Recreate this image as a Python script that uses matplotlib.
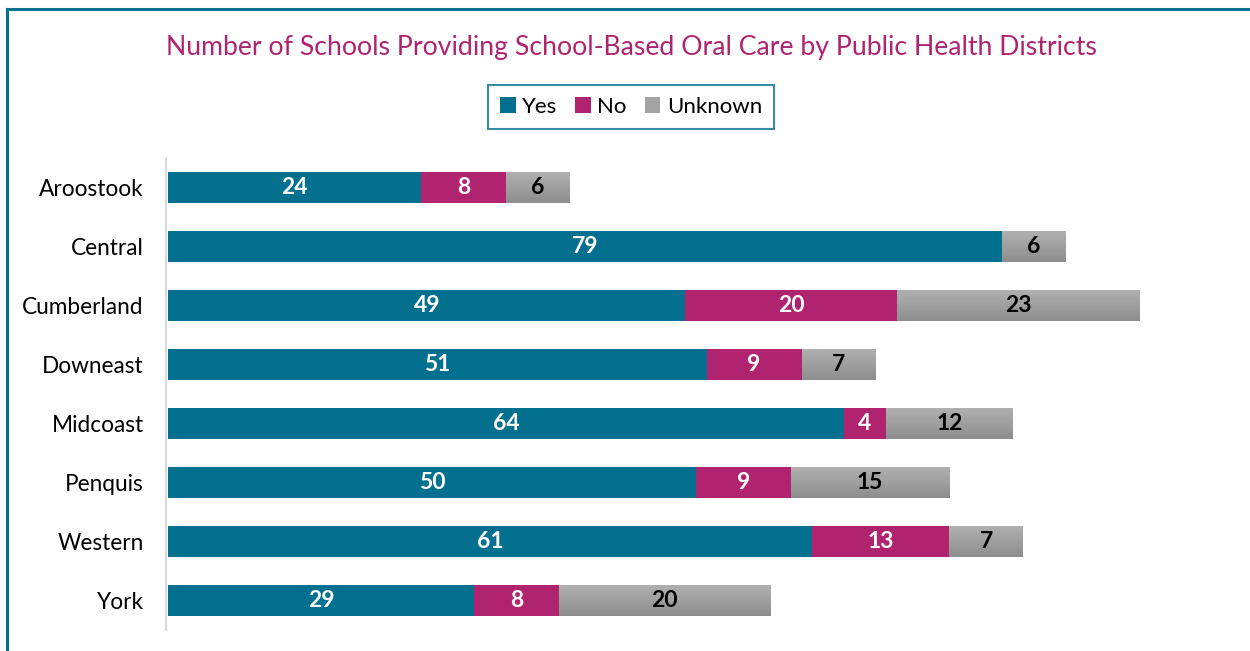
import matplotlib.pyplot as plt
from matplotlib.lines import Line2D
from matplotlib.colors import LinearSegmentedColormap
import numpy as np

districts = ["Aroostook", "Central", "Cumberland", "Downeast",
             "Midcoast", "Penquis", "Western", "York"]
yes_vals = [24, 79, 49, 51, 64, 50, 61, 29]
no_vals = [8, 0, 20, 9, 4, 9, 13, 8]
unknown_vals = [6, 6, 23, 7, 12, 15, 7, 20]

teal = "#03708F"
magenta = "#B0246F"
gray = "#A3A3A3"

plt.rcParams["font.family"] = ["Lato", "DejaVu Sans"]

fig = plt.figure(figsize=(12.5, 6.51), dpi=100)
ax = fig.add_axes([168 / 1250, 21 / 651, 1056 / 1250, 472 / 651])

y = np.arange(len(districts))
yes = np.array(yes_vals)
no = np.array(no_vals)
unk = np.array(unknown_vals)
h = 0.51

ax.barh(y, yes, height=h, color=teal, label="Yes")
ax.barh(y, no, left=yes, height=h, color=magenta, label="No")
gray_bars = ax.barh(y, unk, left=yes + no, height=h, color=gray, label="Unknown")

# light-to-dark gradient on the grey bars
grad_cmap = LinearSegmentedColormap.from_list("g", ["#B0B0B0", "#8E8E8E"])
grad = np.linspace(0, 1, 64).reshape(-1, 1)
for bar in gray_bars:
    x0, y0 = bar.get_x(), bar.get_y()
    w, hh = bar.get_width(), bar.get_height()
    if w == 0:
        continue
    im = ax.imshow(grad, cmap=grad_cmap, aspect="auto",
                   extent=[x0, x0 + w, y0, y0 + hh], origin="lower", zorder=1.5)
    im.set_clip_path(bar)

# value labels
for i in range(len(districts)):
    if yes[i]:
        ax.text(yes[i] / 2, y[i], str(yes[i]), ha="center", va="center",
                color="white", fontsize=16.5, fontweight="bold", zorder=3)
    if no[i]:
        ax.text(yes[i] + no[i] / 2, y[i], str(no[i]), ha="center", va="center",
                color="white", fontsize=16.5, fontweight="bold", zorder=3)
    if unk[i]:
        ax.text(yes[i] + no[i] + unk[i] / 2, y[i], str(unk[i]), ha="center",
                va="center", color="black", fontsize=16.5, fontweight="bold", zorder=3)

ax.set_xlim(0, 100)
ax.set_ylim(len(districts) - 0.5, -0.5)
for s in ["top", "right", "bottom"]:
    ax.spines[s].set_visible(False)
ax.spines["left"].set_position(("data", -0.2))
ax.spines["left"].set_color("#D9D9D9")
ax.spines["left"].set_linewidth(1.5)
ax.set_xticks([])
ax.set_yticks(y)
ax.set_yticklabels(districts)
ax.tick_params(axis="y", length=0, pad=16, labelsize=16.3)

fig.text(631 / 1250, 1 - 48 / 651,
         "Number of Schools Providing School-Based Oral Care by Public Health Districts",
         ha="center", va="center", color="#B0246F", fontsize=19.2)

leg = fig.legend(loc="center", bbox_to_anchor=(631 / 1250, 1 - 107 / 651),
                 ncol=3, fontsize=16, frameon=True, fancybox=False,
                 handlelength=0.7, handleheight=0.7, handletextpad=0.3,
                 columnspacing=0.8, borderpad=0.55)
leg.get_frame().set_edgecolor(teal)
leg.get_frame().set_linewidth(1.5)

# outer frame (top and left edges visible)
fig.add_artist(Line2D([7 / 1250, 1], [1 - 9 / 651, 1 - 9 / 651], color=teal, lw=2.2))
fig.add_artist(Line2D([7 / 1250, 7 / 1250], [0, 1 - 9 / 651], color=teal, lw=2.2))

fig.savefig("out.png", dpi=100)
